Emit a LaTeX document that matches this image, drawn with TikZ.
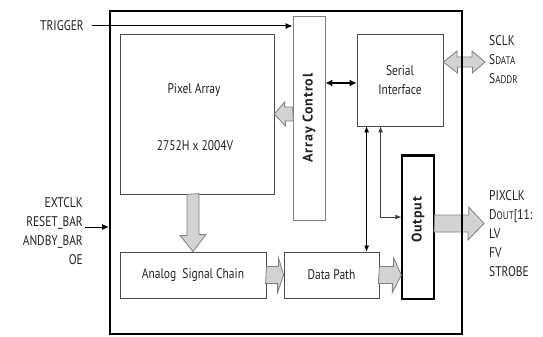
\documentclass[tikz,border=0pt]{standalone}
\usepackage{fontspec}
\setmainfont[FakeStretch=0.82]{PT Sans}
\newfontfamily\labelfont[LetterSpace=6]{PT Sans}
\usetikzlibrary{arrows.meta,calc}
\definecolor{fatfill}{HTML}{D3D3D3}
\definecolor{fatline}{HTML}{7F7F7F}
\definecolor{inkgrey}{HTML}{222222}
\newcommand\smc[1]{{\fontsize{11}{19}\selectfont #1}}
\tikzset{
  blockbox/.style={
    rectangle, draw=#1, line width=0.8pt, inner sep=0pt,
    align=center, text=inkgrey, font=\fontsize{14}{19}\selectfont
  },
  blockbox/.default=black!70,
  pinlabel/.style={text=inkgrey, inner sep=0pt, font=\fontsize{14}{19}\selectfont},
  sidelabel/.style={rotate=90, text=inkgrey, inner sep=0pt,
    font=\labelfont\fontsize{14}{14}\selectfont\bfseries},
  fatarrow/.style={draw=fatline, fill=fatfill, line width=0.8pt},
  sigarrow/.style={-{Latex[length=7pt,width=6pt]}, line width=1pt},
  busarrow/.style={{Latex[length=6pt,width=5pt]}-{Latex[length=6pt,width=5pt]}, line width=0.8pt}
}

\begin{document}
\begin{tikzpicture}[x=1pt,y=-1pt]
\useasboundingbox (0,0) rectangle (543,337);

% blocks inside the sensor
\node[blockbox, minimum width=154, minimum height=160] (pix) at (197,114) {};
\node[pinlabel] (pixname) at (194,90) {Pixel Array};
\node[pinlabel] (pixsize) at (195,146) {2752H x 2004V};
\node[blockbox=black!50, minimum width=32, minimum height=204] (actl) at (309,118) {};
\node[sidelabel] (actlname) at (actl.center) {Array Control};
\node[blockbox, minimum width=86, minimum height=92] (ser) at (400,80) {Serial\\Interface};
\node[blockbox=black, line width=1.3pt, minimum width=32, minimum height=143] (outp) at (418,227.5) {};
\draw[line width=3pt] (outp.north west) -- (outp.north east);
\node[sidelabel] (outpname) at ([yshift=7.5pt]outp.center) {Output};
\node[blockbox, minimum width=146, minimum height=46] (asc) at (193,275) {Analog~ Signal Chain};
\node[blockbox, minimum width=95, minimum height=46] (dp) at (331.5,275) {Data Path};

% wide data arrows
\draw[fatarrow] (asc.north |- pix.south) ++(-6,0) -- ++(0,41) -- ++(-7,0) -- (asc.north)
  -- ++(13,-17) -- ++(-7,0) -- ++(0,-41) -- cycle;
\draw[fatarrow] (actl.west |- pix.east) ++(0,-7) -- ++(-8,0) -- ++(0,-5) -- (pix.east)
  -- ++(11,12) -- ++(0,-5) -- ++(8,0) -- cycle;
\draw[fatarrow] (asc.east) ++(0,-8.5) -- ++(12,0) -- ++(0,-9) -- (dp.west)
  -- ++(-6,17.5) -- ++(0,-9) -- ++(-12,0) -- cycle;
\draw[fatarrow] (dp.east) ++(0,-8.5) -- ++(14,0) -- ++(0,-9) -- (outp.west |- dp.east)
  -- ++(-9,17.5) -- ++(0,-9) -- ++(-14,0) -- cycle;
\coordinate (dout) at (484,223.5);
\draw[fatarrow] (outp.east |- dout) ++(0,-8.5) -- ++(34,0) -- ++(0,-8) -- (dout)
  -- ++(-16,16.5) -- ++(0,-8) -- ++(-34,0) -- cycle;
\coordinate (sio) at (485,62);
\draw[fatarrow] (sio) -- ++(-13,-11) -- ++(0,6) -- ++(-15,0) -- ++(0,-6) -- (ser.east |- sio)
  -- ++(14,11) -- ++(0,-6) -- ++(15,0) -- ++(0,6) -- cycle;

% sensor outline
\node[draw=black, line width=2pt, minimum width=352, minimum height=323, inner sep=0pt] (chip) at (286,172.5) {};

% control signals
\node[pinlabel, anchor=east] (trig) at (84,26) {TRIGGER};
\draw[sigarrow] ([xshift=8pt]trig.east) -- (trig.east -| actl.west);
\node[pinlabel, anchor=east, align=right] (ctl) at (83,231.5) {EXTCLK\\RESET\_BAR\\ANDBY\_BAR\\OE};
\coordinate (ctlin) at (85,227);
\draw[sigarrow] (ctlin) -- (ctlin -| chip.west);

\coordinate (sif) at ([yshift=-3pt]ser.west);
\draw[{Latex[length=7pt,width=7pt]}-{Latex[length=7pt,width=7pt]}, line width=2pt] (actl.east |- sif) -- (sif);
\coordinate (busA) at ([xshift=10pt]ser.south west);
\coordinate (busB) at ([xshift=24pt]ser.south west);
\coordinate (outin) at ([yshift=10.5pt]outp.west);
\draw[busarrow] (busA) -- (busA |- dp.north);
\draw[busarrow, draw=black!75] (busB) -- (busB |- outin) -- (outin);

% pins on the right
\node[pinlabel, anchor=west, align=left] (sbus) at (489,60) {SCLK\\S\smc{DATA}\\S\smc{ADDR}};
\node[pinlabel, anchor=west, align=left] (obus) at (489,234) {PIXCLK\\D\smc{OUT}[11:\\LV\\FV\\STROBE};
\end{tikzpicture}
\end{document}
